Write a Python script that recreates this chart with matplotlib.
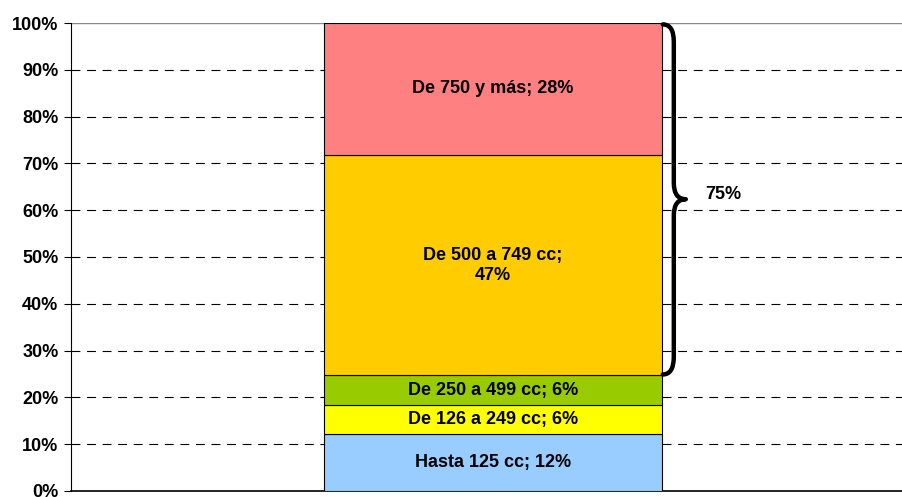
import matplotlib.pyplot as plt
from matplotlib.path import Path
from matplotlib.patches import PathPatch
import matplotlib.transforms as mtransforms

plt.rcParams['font.family'] = ['Liberation Sans', 'DejaVu Sans']

# segments from bottom to top
categories = ['Hasta 125 cc', 'De 126 a 249 cc', 'De 250 a 499 cc', 'De 500 a 749 cc', 'De 750 y más']
values = [12.2, 6.1, 6.4, 47.1, 28.2]
labels = ['Hasta 125 cc; 12%', 'De 126 a 249 cc; 6%', 'De 250 a 499 cc; 6%',
          'De 500 a 749 cc;\n47%', 'De 750 y más; 28%']
colors = ['#99ccff', '#ffff00', '#99cc00', '#ffcc00', '#ff8080']
brace_label = '75%'
yticks = list(range(0, 101, 10))

fig = plt.figure(figsize=(9.02, 4.97), dpi=100)
ax = fig.add_axes([0.0787, 0.0121, 0.921, 0.9416])

bar_x = 0.508
bar_w = 0.407
bottom = 0
for val, lab, col in zip(values, labels, colors):
    ax.bar(bar_x, val, width=bar_w, bottom=bottom, color=col,
           edgecolor='black', linewidth=0.8, zorder=3)
    ax.text(bar_x, bottom + val / 2, lab, ha='center', va='center',
            fontsize=13, fontweight='bold', zorder=4, linespacing=1.25)
    bottom += val

ax.set_xlim(0, 1)
ax.set_ylim(0, 100)
ax.set_yticks(yticks)
ax.set_yticklabels([f'{t}%' for t in yticks], fontsize=13, fontweight='bold')
ax.set_xticks([])
ax.tick_params(axis='y', direction='out', length=5, width=0.8, pad=4)

for t in yticks[1:-1]:
    ax.axhline(t, color='black', linestyle=(0, (8, 6)), linewidth=0.8, zorder=1)
ax.axhline(100, color='#888888', linewidth=1.0, zorder=1)

ax.spines['top'].set_visible(False)
ax.spines['right'].set_visible(False)
ax.spines['left'].set_color('black')
ax.spines['bottom'].set_color('black')
ax.spines['bottom'].set_linewidth(1.2)

# curly brace over the two top segments
lo = values[0] + values[1] + values[2]
hi = 100
mid = (lo + hi) / 2
trans = mtransforms.blended_transform_factory(ax.transAxes, ax.transData)
x0 = (663 - 71) / 831
x1 = (674 - 71) / 831
x2 = (686 - 71) / 831
verts = [(x0, hi - 0.3), (x1, hi - 0.3), (x1, hi - 4),
         (x1, mid + 3.5),
         (x1, mid), (x2, mid),
         (x1, mid), (x1, mid - 3.5),
         (x1, lo + 4),
         (x1, lo + 0.2), (x0, lo + 0.2)]
codes = [Path.MOVETO, Path.CURVE3, Path.CURVE3,
         Path.LINETO,
         Path.CURVE3, Path.CURVE3,
         Path.CURVE3, Path.CURVE3,
         Path.LINETO,
         Path.CURVE3, Path.CURVE3]
brace = PathPatch(Path(verts, codes), transform=trans, facecolor='none',
                  edgecolor='black', linewidth=3.2, clip_on=False, zorder=5,
                  capstyle='round', joinstyle='round')
ax.add_patch(brace)
ax.text((705 - 71) / 831, mid + 1, brace_label, transform=trans,
        ha='left', va='center', fontsize=13, fontweight='bold')

fig.savefig('out.png', dpi=100)
